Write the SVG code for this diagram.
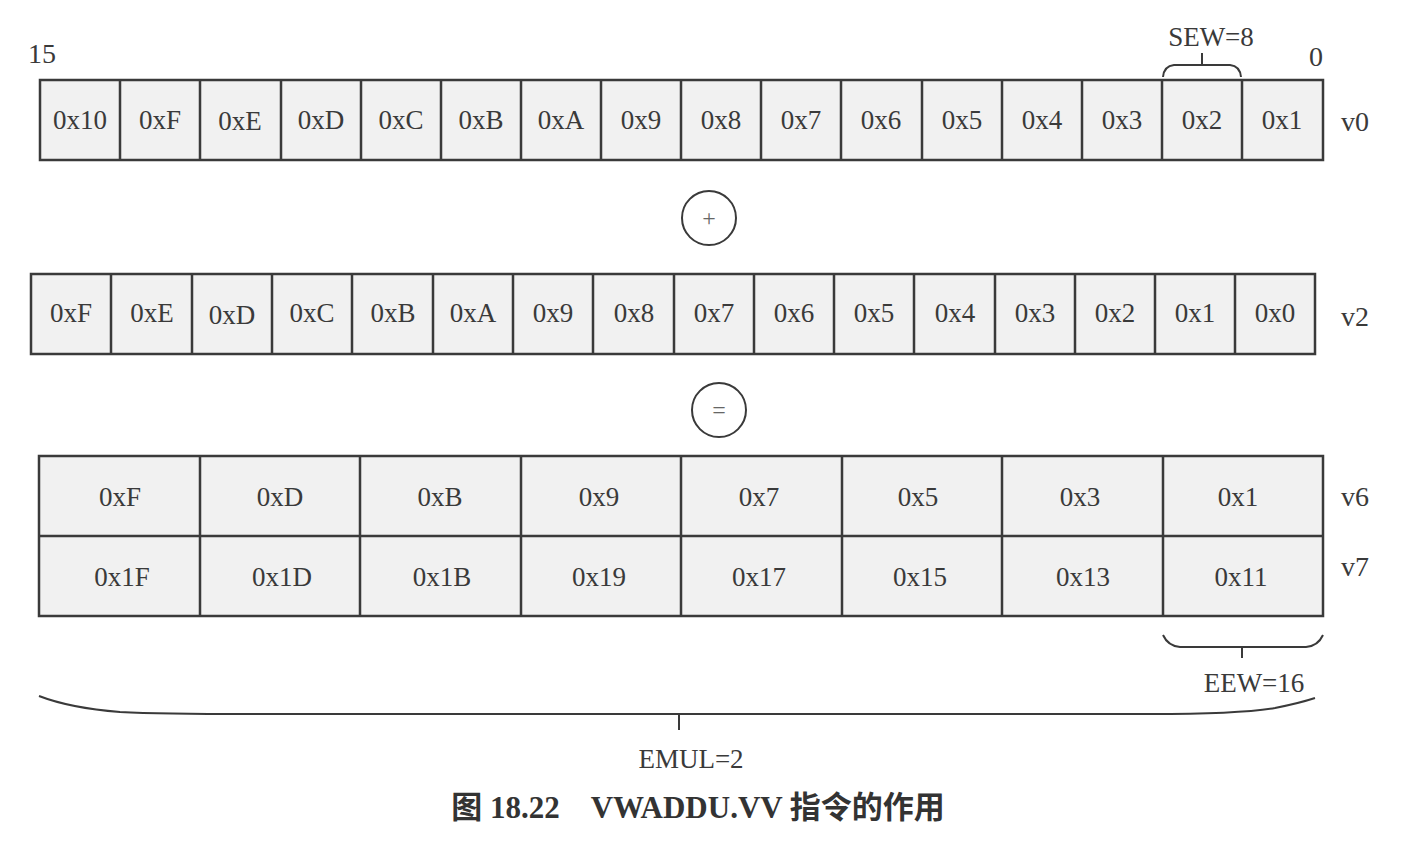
<svg xmlns="http://www.w3.org/2000/svg" width="1401" height="843" viewBox="0 0 1401 843">
<style>
.cell{fill:#f1f1f1;stroke:#3a3a3a;stroke-width:2.5}
.t{font-family:"Liberation Serif","Times New Roman",serif;font-size:27px;fill:#3a3a3a;text-anchor:middle}
.lbl{font-family:"Liberation Serif","Times New Roman",serif;font-size:28px;fill:#3a3a3a}
.br{fill:none;stroke:#3a3a3a;stroke-width:2}
.op{fill:#fff;stroke:#3a3a3a;stroke-width:2}
.cap{font-family:"Liberation Serif","Noto Sans CJK SC",serif;font-size:31px;fill:#333;text-anchor:middle;font-weight:bold}
</style>
<rect width="1401" height="843" fill="#fff"/>
<g id="v0">
<rect class="cell" x="40" y="80" width="1283" height="80"/>
<path class="cell" fill="none" d="M120 80V160M200 80V160M281 80V160M361 80V160M441 80V160M521 80V160M601 80V160M681 80V160M761 80V160M841 80V160M922 80V160M1002 80V160M1082 80V160M1162 80V160M1242 80V160"/>
<g class="t">
<text x="80" y="129">0x10</text><text x="160" y="129">0xF</text><text x="240" y="130">0xE</text><text x="321" y="129">0xD</text><text x="401" y="129">0xC</text><text x="481" y="129">0xB</text><text x="561" y="129">0xA</text><text x="641" y="129">0x9</text><text x="721" y="129">0x8</text><text x="801" y="129">0x7</text><text x="881" y="129">0x6</text><text x="962" y="129">0x5</text><text x="1042" y="129">0x4</text><text x="1122" y="129">0x3</text><text x="1202" y="129">0x2</text><text x="1282" y="129">0x1</text>
</g>
<text class="lbl" x="1341" y="131">v0</text>
<text class="lbl" x="28" y="63">15</text>
<text class="lbl" x="1309" y="66">0</text>
</g>
<g id="sew">
<path class="br" d="M1163 77Q1164 66 1174 65H1230Q1240 66 1241 77M1202 65V53"/>
<text class="t" x="1211" y="46">SEW=8</text>
</g>
<g id="plus">
<circle class="op" cx="709" cy="218" r="27"/>
<text class="t" x="709" y="226" style="font-size:24px;fill:#666">+</text>
</g>
<g id="v2">
<rect class="cell" x="31" y="274" width="1284" height="80"/>
<path class="cell" fill="none" d="M111 274V354M192 274V354M272 274V354M352 274V354M433 274V354M513 274V354M593 274V354M674 274V354M754 274V354M834 274V354M914 274V354M995 274V354M1075 274V354M1155 274V354M1235 274V354"/>
<g class="t">
<text x="71" y="322">0xF</text><text x="152" y="322">0xE</text><text x="232" y="324">0xD</text><text x="312" y="322">0xC</text><text x="393" y="322">0xB</text><text x="473" y="322">0xA</text><text x="553" y="322">0x9</text><text x="634" y="322">0x8</text><text x="714" y="322">0x7</text><text x="794" y="322">0x6</text><text x="874" y="322">0x5</text><text x="955" y="322">0x4</text><text x="1035" y="322">0x3</text><text x="1115" y="322">0x2</text><text x="1195" y="322">0x1</text><text x="1275" y="322">0x0</text>
</g>
<text class="lbl" x="1341" y="326">v2</text>
</g>
<g id="equals">
<circle class="op" cx="719" cy="410" r="27"/>
<text class="t" x="719" y="418" style="font-size:24px;fill:#666">=</text>
</g>
<g id="v6v7">
<rect class="cell" x="39" y="456" width="1284" height="160"/>
<path class="cell" fill="none" d="M39 536H1323M200 456V616M360 456V616M521 456V616M681 456V616M842 456V616M1002 456V616M1163 456V616"/>
<g class="t">
<text x="120" y="506">0xF</text><text x="280" y="506">0xD</text><text x="440" y="506">0xB</text><text x="599" y="506">0x9</text><text x="759" y="506">0x7</text><text x="918" y="506">0x5</text><text x="1080" y="506">0x3</text><text x="1238" y="506">0x1</text>
<text x="122" y="586">0x1F</text><text x="282" y="586">0x1D</text><text x="442" y="586">0x1B</text><text x="599" y="586">0x19</text><text x="759" y="586">0x17</text><text x="920" y="586">0x15</text><text x="1083" y="586">0x13</text><text x="1241" y="586">0x11</text>
</g>
<text class="lbl" x="1341" y="506">v6</text>
<text class="lbl" x="1341" y="576">v7</text>
</g>
<g id="eew">
<path class="br" d="M1163 635Q1168 646 1180 647H1306Q1318 646 1323 635M1242 647V658"/>
<text class="t" x="1254" y="692">EEW=16</text>
</g>
<g id="emul">
<path class="br" d="M39 696Q70 708 120 712Q160 714 250 714H1150Q1240 714 1275 708Q1300 703 1315 698M679 714V730"/>
<text class="t" x="691" y="768">EMUL=2</text>
</g>
<g id="caption">
<text class="cap" x="698" y="818">图 18.22　VWADDU.VV 指令的作用</text>
</g>
</svg>
